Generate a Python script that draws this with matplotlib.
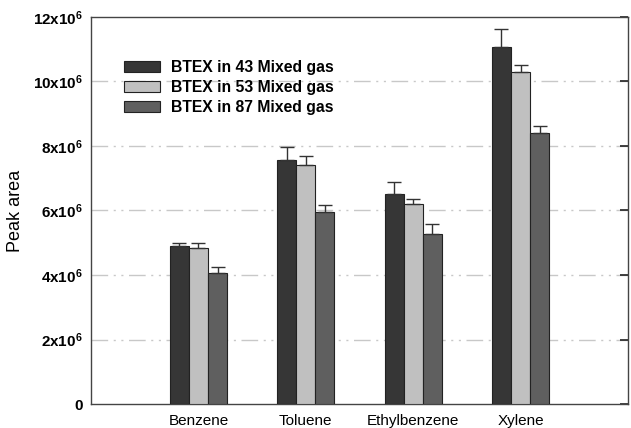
import matplotlib
matplotlib.use("Agg")
import matplotlib.pyplot as plt
import numpy as np

categories = ["Benzene", "Toluene", "Ethylbenzene", "Xylene"]
series_names = ["BTEX in 43 Mixed gas", "BTEX in 53 Mixed gas", "BTEX in 87 Mixed gas"]
s43 = [4.90e6, 7.57e6, 6.51e6, 11.08e6]
s43_err = [0.08e6, 0.40e6, 0.36e6, 0.56e6]
s53 = [4.83e6, 7.41e6, 6.19e6, 10.31e6]
s53_err = [0.15e6, 0.29e6, 0.16e6, 0.20e6]
s87 = [4.05e6, 5.94e6, 5.27e6, 8.40e6]
s87_err = [0.21e6, 0.23e6, 0.31e6, 0.21e6]
yticks = [0, 2e6, 4e6, 6e6, 8e6, 10e6, 12e6]
ytick_labels = ["0", "2x10$^{6}$", "4x10$^{6}$", "6x10$^{6}$", "8x10$^{6}$", "10x10$^{6}$", "12x10$^{6}$"]

plt.rcParams['font.family'] = ['Liberation Sans', 'DejaVu Sans']
plt.rcParams['mathtext.fontset'] = 'custom'
plt.rcParams['mathtext.rm'] = 'Liberation Sans:bold'
plt.rcParams['mathtext.bf'] = 'Liberation Sans:bold'
plt.rcParams['mathtext.it'] = 'Liberation Sans:bold'

fig = plt.figure(figsize=(6.31, 4.28), dpi=100)
ax = fig.add_axes([91/631, 1 - 404/428, (628-91)/631, (404-17)/428])

x = np.arange(1, len(categories) + 1)
w = 0.178
colors = ["#363636", "#c0c0c0", "#5f5f5f"]
data = [(s43, s43_err), (s53, s53_err), (s87, s87_err)]
for i, ((vals, errs), c, name) in enumerate(zip(data, colors, series_names)):
    ax.bar(x + (i - 1) * w, vals, w, color=c, edgecolor="#222222", linewidth=0.8,
           label=name, zorder=3)
    ax.errorbar(x + (i - 1) * w, vals, yerr=[np.zeros(len(vals)), errs], fmt="none",
                ecolor="#333333", elinewidth=1.0, capsize=5, capthick=1.0, zorder=4)

ax.set_xlim(0, 5)
ax.set_ylim(0, 12e6)
ax.set_xticks(x)
ax.set_xticklabels(categories, fontsize=11)
ax.set_yticks(yticks)
ax.set_yticklabels(ytick_labels, fontsize=11, fontweight="bold")
ax.tick_params(axis="x", length=0, pad=7)
ax.tick_params(axis="y", left=False, right=True, labelleft=True, labelright=False,
               direction="in", length=6, width=1.2, color="#222222", pad=6)
for yv in yticks[1:-1]:
    ax.axhline(yv, color="#c8c8c8", linestyle=(0, (12, 4, 1.5, 4, 1.5, 4)), linewidth=1.0, zorder=1)
for sp in ax.spines.values():
    sp.set_color("#444444")
    sp.set_linewidth(1.0)
ax.set_ylabel("Peak area", fontsize=13, labelpad=6)

leg = ax.legend(loc="upper left", bbox_to_anchor=(0.049, 0.905), frameon=False,
                prop={"weight": "bold", "size": 11.3}, handlelength=2.3, handleheight=0.75,
                labelspacing=0.32, handletextpad=0.7, borderaxespad=0)

fig.savefig("out.png", dpi=100)
